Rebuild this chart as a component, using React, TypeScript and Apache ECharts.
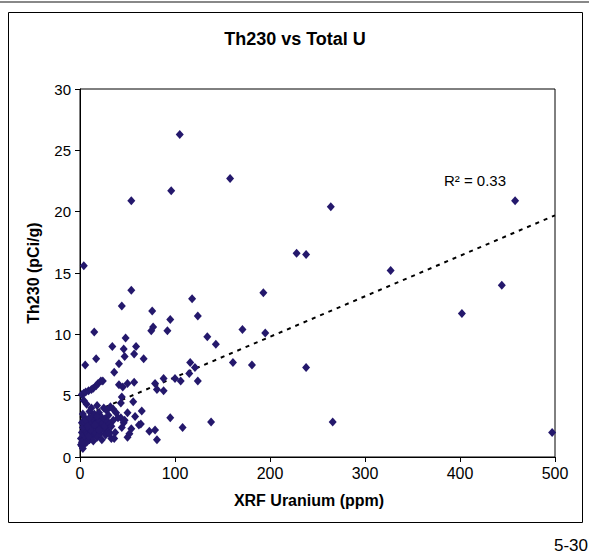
import React, { useEffect, useRef } from "react";
import * as echarts from "echarts";

const xTicks = [0, 100, 200, 300, 400, 500];
const yTicks = [0, 5, 10, 15, 20, 25, 30];

// XRF Uranium (ppm)
const uranium = [
  105, 96, 158, 54, 264, 458, 228, 238, 4, 327, 54, 444, 402, 497, 193, 118, 76, 124, 95, 44,
  171, 134, 143, 195, 77, 75, 92, 15, 48, 34, 46, 59, 47, 57, 5.5, 17, 41, 36, 24, 41,
  45, 50, 57, 44, 67, 116, 121, 115, 124, 106, 100, 88, 79, 81, 88, 161, 181, 238, 138, 266,
  56, 65, 58, 50, 95, 64, 54, 73, 79, 108, 81, 50, 52, 43, 46, 62, 37, 33, 47, 43,
  35, 44, 36, 2, 4, 6, 9, 12, 14, 17, 19, 22, 4, 7, 18, 32, 25, 28, 12, 10,
  15, 20, 22, 30, 27, 5, 3, 8, 2, 1, 2, 1, 3, 2, 4, 5, 6, 7, 8, 9,
  10, 11, 12, 13, 14, 15, 16, 17, 18, 19, 20, 21, 22, 23, 24, 25, 26, 27, 28, 29,
  30, 3, 4, 6, 7, 9, 11, 13, 5, 3, 2, 8, 10, 16, 18, 14, 20, 26, 31, 33,
  35, 31, 38, 40,
];
// Th230 (pCi/g)
const th230 = [
  26.3, 21.7, 22.7, 20.9, 20.4, 20.9, 16.6, 16.5, 15.6, 15.2, 13.6, 14.0, 11.7, 2.0, 13.4, 12.9, 11.9, 11.5, 11.2, 12.3,
  10.4, 9.8, 9.2, 10.1, 10.6, 10.3, 10.3, 10.2, 9.7, 9.0, 8.8, 9.0, 8.2, 8.4, 7.5, 8.0, 7.6, 6.9, 6.2, 5.9,
  5.7, 6.0, 6.1, 4.9, 8.0, 7.7, 7.3, 6.8, 6.2, 6.2, 6.4, 6.4, 6.0, 5.5, 5.4, 7.7, 7.5, 7.3, 2.85, 2.85,
  4.5, 3.75, 3.3, 3.6, 3.2, 2.7, 2.3, 2.1, 2.2, 2.4, 1.4, 1.6, 1.9, 3.2, 2.8, 2.6, 2.0, 1.5, 3.0, 4.4,
  3.9, 2.4, 1.5, 5.1, 5.2, 5.3, 5.4, 5.5, 5.6, 5.8, 6.0, 6.2, 4.6, 4.3, 4.2, 4.1, 4.0, 3.8, 4.0, 3.7,
  3.5, 3.6, 3.3, 3.4, 3.0, 3.2, 3.5, 3.0, 2.8, 1.0, 0.9, 1.5, 1.3, 2.0, 1.8, 2.2, 1.5, 2.6, 1.9, 2.3,
  1.4, 2.8, 2.1, 1.7, 2.5, 3.0, 2.0, 2.7, 1.6, 2.3, 2.9, 1.9, 2.5, 1.4, 2.8, 2.2, 3.1, 1.8, 2.4, 2.9,
  2.1, 2.4, 2.9, 3.0, 1.2, 1.7, 2.2, 3.2, 1.1, 0.7, 1.2, 2.5, 3.2, 2.6, 3.3, 1.3, 2.2, 2.5, 2.7, 2.5,
  3.0, 1.9, 3.6, 3.2,
];

// Linear trend line end points
const trendX = [0, 500];
const trendY = [3.2, 19.7];
const r2Label = "R² = 0.33";

export default function App() {
  const ref = useRef<HTMLDivElement>(null);
  useEffect(() => {
    if (!ref.current) return;
    const chart = echarts.init(ref.current, null, { renderer: "svg" });
    const points = uranium.map((u, i) => [u, th230[i]]);
    const trend = trendX.map((x, i) => [x, trendY[i]]);
    const font = "Arial, 'Liberation Sans', sans-serif";
    chart.setOption({
      animation: false,
      backgroundColor: "#fff",
      grid: {
        left: 80,
        right: 34,
        top: 89,
        bottom: 96,
        show: true,
        borderColor: "#000",
        borderWidth: 1,
        backgroundColor: "#fff",
      },
      xAxis: {
        type: "value",
        min: xTicks[0],
        max: xTicks[xTicks.length - 1],
        interval: 100,
        axisLine: { show: true, onZero: false, lineStyle: { color: "#000", width: 1 } },
        axisTick: { show: true, inside: false, length: 5, lineStyle: { color: "#000" } },
        splitLine: { show: false },
        axisLabel: { color: "#000", fontSize: 16, fontFamily: font, margin: 8 },
      },
      yAxis: {
        type: "value",
        min: yTicks[0],
        max: yTicks[yTicks.length - 1],
        interval: 5,
        axisLine: { show: true, onZero: false, lineStyle: { color: "#000", width: 1 } },
        axisTick: { show: true, inside: false, length: 5, lineStyle: { color: "#000" } },
        splitLine: { show: false },
        axisLabel: { color: "#000", fontSize: 15, fontFamily: font, margin: 9 },
      },
      series: [
        {
          type: "scatter",
          data: points,
          symbol: "diamond",
          symbolSize: [8, 9],
          itemStyle: { color: "#24186c", opacity: 1 },
          z: 3,
        },
        {
          type: "line",
          data: trend,
          symbol: "none",
          lineStyle: { color: "#000", width: 2, type: [4, 5] },
          z: 2,
        },
      ],
      graphic: [
        { type: "rect", shape: { x: 0, y: 1, width: 589, height: 2 }, style: { fill: "#888" } },
        {
          type: "rect",
          shape: { x: 8.5, y: 12.5, width: 574, height: 510 },
          style: { fill: "none", stroke: "#000", lineWidth: 1 },
          z: -1,
        },
        {
          type: "text",
          x: 295,
          y: 39,
          style: {
            text: "Th230 vs Total U",
            font: `bold 18px ${font}`,
            fill: "#000",
            textAlign: "center",
            textVerticalAlign: "middle",
          },
        },
        {
          type: "text",
          x: 309,
          y: 500,
          style: {
            text: "XRF Uranium (ppm)",
            font: `bold 16px ${font}`,
            fill: "#000",
            textAlign: "center",
            textVerticalAlign: "middle",
          },
        },
        {
          type: "text",
          x: 33,
          y: 273,
          rotation: Math.PI / 2,
          style: {
            text: "Th230 (pCi/g)",
            font: `bold 16px ${font}`,
            fill: "#000",
            textAlign: "center",
            textVerticalAlign: "middle",
          },
        },
        {
          type: "text",
          x: 475,
          y: 180,
          style: {
            text: r2Label,
            font: `15px ${font}`,
            fill: "#000",
            textAlign: "center",
            textVerticalAlign: "middle",
          },
        },
        {
          type: "text",
          x: 588,
          y: 545,
          style: {
            text: "5-30",
            font: `17px ${font}`,
            fill: "#000",
            textAlign: "right",
            textVerticalAlign: "middle",
          },
        },
      ],
    });
    return () => chart.dispose();
  }, []);
  return (
    <div
      ref={ref}
      style={{ position: "fixed", left: 0, top: 0, width: 589, height: 553 }}
    />
  );
}
